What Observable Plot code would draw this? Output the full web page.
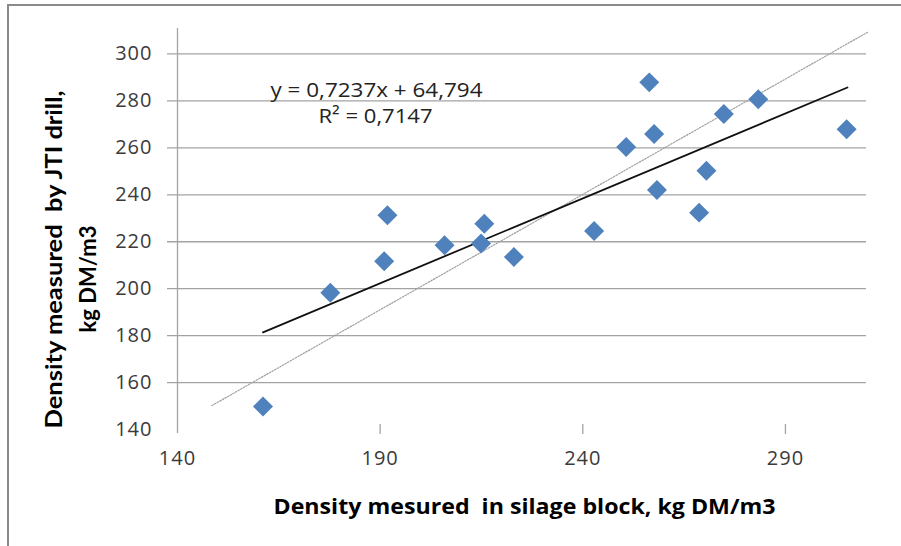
<!DOCTYPE html>
<html>
<head>
<meta charset="utf-8">
<script src="https://cdn.jsdelivr.net/npm/d3@7"></script>
<script src="https://cdn.jsdelivr.net/npm/@observablehq/plot@0.6"></script>
<style>
  html, body { margin: 0; padding: 0; background: #fff; overflow: hidden; }
  #wrap { position: relative; width: 901px; height: 546px; overflow: hidden; }
  #border { position: absolute; left: 7px; top: 4px; width: 1000px; height: 1000px;
            border-top: 2px solid #8a8a8a; border-left: 2px solid #8a8a8a; }
  #chart { position: absolute; left: 0; top: 0; }
  text { white-space: pre; }
</style>
</head>
<body>
<div id="wrap"><div id="border"></div><div id="chart"></div></div>
<script>
// Measured density in silage block (x) vs JTI drill (y), kg DM/m3
const blockDensity = [161.1, 177.7, 191.0, 191.8, 205.9, 214.9, 215.7, 223.0, 242.8, 250.7, 256.4, 257.6, 258.3, 268.7, 270.5, 274.8, 283.3, 305.1];
const drillDensity = [149.8, 198.3, 211.7, 231.3, 218.5, 219.2, 227.7, 213.5, 224.6, 260.4, 287.9, 265.9, 242.0, 232.4, 250.2, 274.4, 280.7, 267.9];

// Linear trend line endpoints (as drawn) and 1:1 reference line endpoints
const trendX = [161.1, 305.3];
const trendY = [181.4, 285.7];
const refX = [148.5, 310.2];
const refY = [150.2, 309.2];

const xTicks = [140, 190, 240, 290];
const yTicks = [140, 160, 180, 200, 220, 240, 260, 280, 300];
const gridTicks = [160, 180, 200, 220, 240, 260, 280, 300];

const equationText = "y = 0,7237x + 64,794";
const r2Text = "R² = 0,7147";
const xTitle = "Density mesured  in silage block, kg DM/m3";
const yTitle1 = "Density measured  by JTI drill,";
const yTitle2 = "kg DM/m3";

const points = blockDensity.map((x, i) => ({x, y: drillDensity[i]}));
const trend = trendX.map((x, i) => ({x, y: trendY[i]}));
const ref = refX.map((x, i) => ({x, y: refY[i]}));

const hFont = "'Open Sans', sans-serif";
const vFont = "Lato, sans-serif";

const chart = Plot.plot({
  width: 901,
  height: 546,
  marginLeft: 177,
  marginRight: 35,
  marginTop: 30,
  marginBottom: 117,
  x: {domain: [140, 310]},
  y: {domain: [140, 310]},
  style: {background: "transparent", fontFamily: hFont},
  marks: [
    Plot.gridY(gridTicks, {stroke: "#a3a3a3", strokeOpacity: 1, strokeWidth: 1.3, insetLeft: -10}),
    Plot.ruleX([140], {stroke: "#a3a3a3", strokeWidth: 1.3, insetBottom: -4, insetTop: -2}),
    Plot.axisY(yTicks, {tickSize: 0, tickPadding: 25, fontSize: 20, fill: "#3a3a3a", label: null, fontFamily: hFont}),
    Plot.axisX(xTicks.slice(1), {tickSize: 10, dy: -5, fill: "none", stroke: "#a3a3a3", strokeWidth: 1.3, label: null}),
    Plot.axisX(xTicks, {tickSize: 0, stroke: "none", tickPadding: 21, fontSize: 20, fill: "#3a3a3a", label: null, fontFamily: hFont}),
    Plot.line(ref, {x: "x", y: "y", stroke: "#a0a0a0", strokeWidth: 1.2, strokeDasharray: "1.5,1.5"}),
    Plot.line(trend, {x: "x", y: "y", stroke: "#111", strokeWidth: 1.8}),
    Plot.dot(points, {x: "x", y: "y", symbol: "diamond2", r: 9, fill: "#4f81bd", stroke: "none"}),
    Plot.text([equationText], {frameAnchor: "top-left", text: d => d, dx: 199, dy: 66, textAnchor: "middle", lineAnchor: "bottom", fontSize: 20, fill: "#222", fontFamily: hFont}),
    Plot.text([r2Text], {frameAnchor: "top-left", text: d => d, dx: 198, dy: 92, textAnchor: "middle", lineAnchor: "bottom", fontSize: 20, fill: "#222", fontFamily: hFont}),
    Plot.text([xTitle], {frameAnchor: "bottom", text: d => d, dx: 2.5, dy: 84, textAnchor: "middle", lineAnchor: "bottom", fontSize: 21, fontWeight: "bold", fill: "#000", fontFamily: hFont}),
    Plot.text([yTitle1], {frameAnchor: "left", text: d => d, dx: -115.3, dy: 29.5, rotate: -90, textAnchor: "middle", lineAnchor: "bottom", fontSize: 22, fontWeight: "bold", fill: "#000", fontFamily: vFont}),
    Plot.text([yTitle2], {frameAnchor: "left", text: d => d, dx: -82, dy: 49, rotate: -90, textAnchor: "middle", lineAnchor: "bottom", fontSize: 22, fontWeight: "bold", fill: "#000", fontFamily: vFont})
  ]
});

// Stretch texts to the widths they occupy in the original (horizontally stretched) figure
const textWidths = new Map([[equationText, 212], [r2Text, 114], [xTitle, 502], [yTitle1, 338], [yTitle2, 107]]);
d3.select(chart).selectAll("text").each(function () {
  const w = textWidths.get(this.textContent);
  if (w) {
    this.setAttribute("textLength", w);
    this.setAttribute("lengthAdjust", "spacingAndGlyphs");
  }
});
d3.select(chart).selectAll('g[aria-label$="tick label"] text').style("letter-spacing", "1px");
document.getElementById("chart").appendChild(chart);
</script>
</body>
</html>
